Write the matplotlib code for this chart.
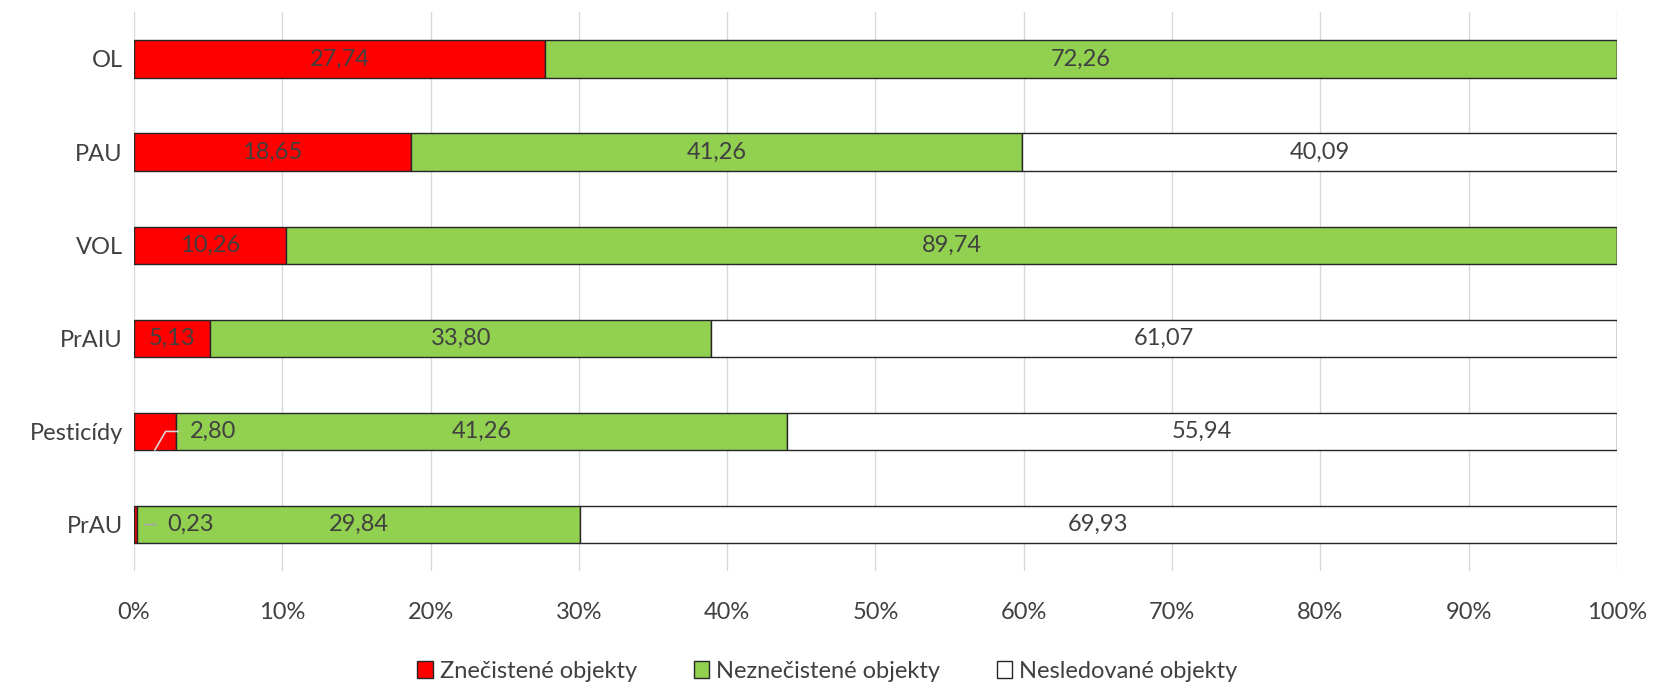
import numpy as np
import matplotlib
matplotlib.use("Agg")
import matplotlib.pyplot as plt

plt.rcParams['font.family'] = ['Lato', 'DejaVu Sans']

# rows from bottom to top
categories = ["PrAU", "Pesticídy", "PrAIU", "VOL", "PAU", "OL"]
znecistene = [0.23, 2.80, 5.13, 10.26, 18.65, 27.74]
neznecistene = [29.84, 41.26, 33.80, 89.74, 41.26, 72.26]
nesledovane = [69.93, 55.94, 61.07, 0.0, 40.09, 0.0]
series_names = ["Znečistené objekty", "Neznečistené objekty", "Nesledované objekty"]
colors = ["#ff0000", "#92d050", "#ffffff"]

fig = plt.figure(figsize=(16.55, 6.84), dpi=100)
ax = fig.add_axes([0.081, 0.165, 0.896, 0.817])

y = np.arange(len(categories))
left = np.zeros(len(categories))
bars = []
for vals, name, col in zip([znecistene, neznecistene, nesledovane], series_names, colors):
    b = ax.barh(y, vals, left=left, height=0.4, color=col, edgecolor="#262626",
                linewidth=1.0, label=name, zorder=3)
    bars.append(b)
    left = left + np.array(vals)

def fmt(v):
    return f"{v:.2f}".replace(".", ",")

lbl_kw = dict(va="center", ha="center", fontsize=17, color="#404040", zorder=5)
# centred labels
starts = np.zeros(len(categories))
for vals in [znecistene, neznecistene, nesledovane]:
    for i, v in enumerate(vals):
        if v > 0 and not (vals is znecistene and v < 5):
            ax.text(starts[i] + v / 2, y[i], fmt(v), **lbl_kw)
    starts = starts + np.array(vals)

# small red segments: labels moved out, with thin leader lines
ax.text(5.3, y[1], fmt(znecistene[1]), **lbl_kw)
ax.annotate("", xy=(znecistene[1] / 2, y[1] - 0.2), xytext=(3.0, y[1]),
            arrowprops=dict(arrowstyle="-", color="#d8d8d8", lw=1.2,
                            connectionstyle="angle,angleA=0,angleB=60,rad=0",
                            shrinkA=0, shrinkB=0), zorder=6)
ax.text(3.8, y[0], fmt(znecistene[0]), **lbl_kw)
ax.annotate("", xy=(0.7, y[0]), xytext=(1.5, y[0]),
            arrowprops=dict(arrowstyle="-", color="#a8a8a8", lw=1.2,
                            shrinkA=0, shrinkB=0), zorder=6)

ax.set_xlim(0, 100)
ax.set_ylim(-0.5, len(categories) - 0.5)
ax.set_xticks(np.arange(0, 101, 10))
ax.set_xticklabels([f"{t}%" for t in range(0, 101, 10)])
ax.set_yticks(y)
ax.set_yticklabels(categories)
ax.tick_params(axis="both", length=0, labelsize=17, colors="#404040")
ax.tick_params(axis="x", pad=22)
ax.tick_params(axis="y", pad=8)
ax.grid(axis="x", color="#d9d9d9", linewidth=1, zorder=0)
for s in ax.spines.values():
    s.set_visible(False)

fig.legend(handles=bars, labels=series_names, loc="lower center",
           bbox_to_anchor=(0.5, -0.028), ncol=3, frameon=False, fontsize=17,
           handlelength=0.65, handleheight=0.7, handletextpad=0.3,
           columnspacing=2.4, labelcolor="#404040")

fig.savefig("out.png", dpi=100)
